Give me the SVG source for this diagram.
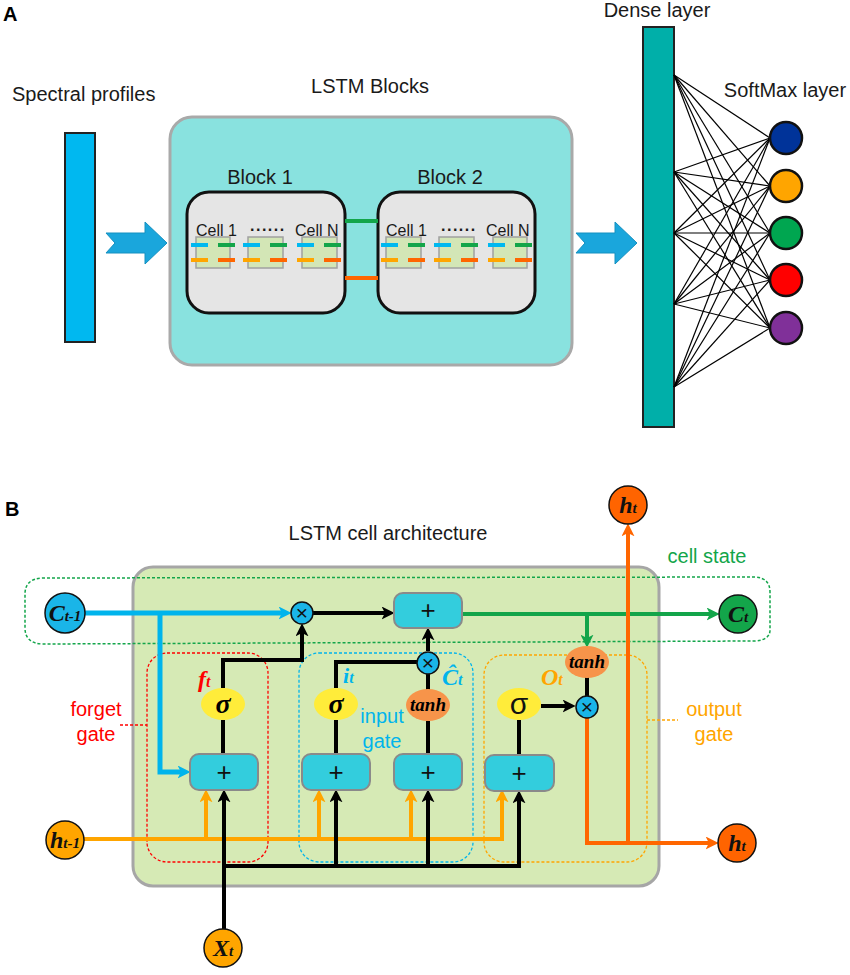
<svg xmlns="http://www.w3.org/2000/svg" width="850" height="975" viewBox="0 0 850 975">
<defs>
<style>
.lbl{font-family:"Liberation Sans",Arial,sans-serif;font-size:20px;fill:#1a1a1a}
.cell{font-family:"Liberation Sans",Arial,sans-serif;font-size:16px;fill:#1a1a1a}
.pl{font-family:"Liberation Sans",Arial,sans-serif;font-size:20px;font-weight:bold;fill:#000}
.sym{font-family:"Liberation Serif","Times New Roman",serif;font-weight:bold;font-style:italic}
.op{font-family:"Liberation Sans",Arial,sans-serif;text-anchor:middle;fill:#111}
.box{fill:#33cddd;stroke:#8a8a8a;stroke-width:2}
.mul{fill:#1ab5e8;stroke:#111;stroke-width:1.5}
.sig{fill:#ffec3a}
.tanh{fill:#f7944a}
.cbox{fill:#d3e6b6;stroke:#a0a0a0;stroke-width:1.5}
.blk{fill:#e5e5e5;stroke:#111;stroke-width:3}
.k{stroke:#000;stroke-width:4;fill:none}
.bl{stroke:#00b4ec;stroke-width:5;fill:none}
.gr{stroke:#13a54a;stroke-width:4;fill:none}
.or{stroke:#ffa500;stroke-width:4;fill:none}
.rd{stroke:#ff6600;stroke-width:4;fill:none}
.dense line{stroke:#000;stroke-width:1.2}
.node circle{stroke:#111;stroke-width:1.5}
</style>
<marker id="mk" viewBox="0 0 12 12" markerWidth="13" markerHeight="13" refX="4" refY="6" orient="auto" markerUnits="userSpaceOnUse"><path d="M0,0 L12,6 L0,12 L3,6 z" fill="#000"/></marker>
<marker id="mb" viewBox="0 0 12 12" markerWidth="13" markerHeight="13" refX="4" refY="6" orient="auto" markerUnits="userSpaceOnUse"><path d="M0,0 L12,6 L0,12 L3,6 z" fill="#00b4ec"/></marker>
<marker id="mg" viewBox="0 0 12 12" markerWidth="13" markerHeight="13" refX="4" refY="6" orient="auto" markerUnits="userSpaceOnUse"><path d="M0,0 L12,6 L0,12 L3,6 z" fill="#13a54a"/></marker>
<marker id="mo" viewBox="0 0 12 12" markerWidth="13" markerHeight="13" refX="4" refY="6" orient="auto" markerUnits="userSpaceOnUse"><path d="M0,0 L12,6 L0,12 L3,6 z" fill="#ffa500"/></marker>
<marker id="mr" viewBox="0 0 12 12" markerWidth="13" markerHeight="13" refX="4" refY="6" orient="auto" markerUnits="userSpaceOnUse"><path d="M0,0 L12,6 L0,12 L3,6 z" fill="#ff6600"/></marker>
</defs>
<rect width="850" height="975" fill="#fff"/>

<!-- Panel A -->
<text class="pl" x="3" y="21">A</text>
<text class="lbl" x="12" y="101">Spectral profiles</text>
<g id="spectral"><rect x="65" y="133" width="30" height="209" fill="#00b8f0" stroke="#222" stroke-width="2"/></g>
<g id="arrowA1"><polygon points="106,233 145,233 145,222 167,243 145,264 145,253 106,253 115,243" fill="#1aa6dc" stroke="#1590c0" stroke-width="1"/></g>

<g id="lstmblocks">
<rect x="170" y="117" width="402" height="248" rx="22" fill="#89e2df" stroke="#a9a9a9" stroke-width="3"/>
<text class="lbl" x="370" y="93" text-anchor="middle">LSTM Blocks</text>
</g>
<g id="block1">
<text class="lbl" x="260" y="184" text-anchor="middle">Block 1</text>
<rect class="blk" x="187" y="192" width="158" height="121" rx="22"/>
<text class="cell" x="196" y="236">Cell 1</text>
<text class="cell" x="250" y="231" letter-spacing="1.5" font-weight="bold">......</text>
<text class="cell" x="295" y="236">Cell N</text>
<rect class="cbox" x="196" y="237" width="34" height="31"/>
<rect class="cbox" x="248" y="237" width="35" height="31"/>
<rect class="cbox" x="302" y="237" width="35" height="31"/>
</g>
<g id="block2">
<text class="lbl" x="450" y="184" text-anchor="middle">Block 2</text>
<rect class="blk" x="378" y="192" width="157" height="121" rx="22"/>
<text class="cell" x="386" y="236">Cell 1</text>
<text class="cell" x="441" y="231" letter-spacing="1.5" font-weight="bold">......</text>
<text class="cell" x="486" y="236">Cell N</text>
<rect class="cbox" x="386" y="237" width="35" height="31"/>
<rect class="cbox" x="439" y="237" width="35" height="31"/>
<rect class="cbox" x="493" y="237" width="34" height="31"/>
</g>
<g id="celldashes" stroke-width="4">
<g stroke="#00b8f0"><path d="M191,245h17M243,245h17M297,245h17M381,245h17M434,245h17M488,245h17"/></g>
<g stroke="#13a54a"><path d="M218,245h17M270,245h17M324,245h17M408,245h17M461,245h17M515,245h17"/></g>
<g stroke="#ffa500"><path d="M191,260h17M243,260h17M297,260h17M381,260h17M434,260h17M488,260h17"/></g>
<g stroke="#ff6600"><path d="M218,260h17M270,260h17M324,260h17M408,260h17M461,260h17M515,260h17"/></g>
</g>
<g id="blocklinks" stroke-width="4">
<line x1="345" y1="221" x2="378" y2="221" stroke="#13a54a"/>
<line x1="345" y1="278" x2="378" y2="278" stroke="#ff6600"/>
</g>
<g id="arrowA2"><polygon points="576,233 615,233 615,222 637,243 615,264 615,253 576,253 585,243" fill="#1aa6dc" stroke="#1590c0" stroke-width="1"/></g>

<g id="dense">
<text class="lbl" x="657" y="17" text-anchor="middle">Dense layer</text>
<rect x="643" y="27" width="31" height="400" fill="#00afa9" stroke="#222" stroke-width="2"/>
</g>
<g class="dense" id="denseconn">
<line x1="674" y1="75" x2="770" y2="138"/><line x1="674" y1="75" x2="770" y2="186"/><line x1="674" y1="75" x2="770" y2="233"/><line x1="674" y1="75" x2="770" y2="280"/><line x1="674" y1="75" x2="770" y2="328"/>
<line x1="674" y1="172" x2="770" y2="138"/><line x1="674" y1="172" x2="770" y2="186"/><line x1="674" y1="172" x2="770" y2="233"/><line x1="674" y1="172" x2="770" y2="280"/><line x1="674" y1="172" x2="770" y2="328"/>
<line x1="674" y1="233" x2="770" y2="138"/><line x1="674" y1="233" x2="770" y2="186"/><line x1="674" y1="233" x2="770" y2="233"/><line x1="674" y1="233" x2="770" y2="280"/><line x1="674" y1="233" x2="770" y2="328"/>
<line x1="674" y1="304" x2="770" y2="138"/><line x1="674" y1="304" x2="770" y2="186"/><line x1="674" y1="304" x2="770" y2="233"/><line x1="674" y1="304" x2="770" y2="280"/><line x1="674" y1="304" x2="770" y2="328"/>
<line x1="674" y1="387" x2="770" y2="138"/><line x1="674" y1="387" x2="770" y2="186"/><line x1="674" y1="387" x2="770" y2="233"/><line x1="674" y1="387" x2="770" y2="280"/><line x1="674" y1="387" x2="770" y2="328"/>
</g>
<g id="softmax" stroke="#111" stroke-width="2.5">
<text class="lbl" x="785" y="97" text-anchor="middle" stroke="none">SoftMax layer</text>
<circle cx="786" cy="138" r="16" fill="#003399"/>
<circle cx="786" cy="186" r="16" fill="#ffa500"/>
<circle cx="786" cy="233" r="16" fill="#00a650"/>
<circle cx="786" cy="280" r="16" fill="#ff0000"/>
<circle cx="786" cy="328" r="16" fill="#803099"/>
</g>

<!-- Panel B -->
<text class="pl" x="5" y="516">B</text>
<text class="lbl" x="388" y="540" text-anchor="middle" font-size="19.5">LSTM cell architecture</text>
<g id="cellbg"><rect x="133" y="567" width="526" height="319" rx="20" fill="#d6eab5" stroke="#a6a6a6" stroke-width="3"/></g>

<g id="cellstate">
<path d="M42,578 L755,577 Q770,578 770,592 L770,630 Q770,640 755,641 L42,644 Q25,643 25,628 L25,594 Q25,579 42,578 Z" fill="none" stroke="#13a54a" stroke-width="1.5" stroke-dasharray="3 2"/>
<text class="lbl" x="707" y="563" text-anchor="middle" font-size="17" style="fill:#13a54a">cell state</text>
</g>
<g id="forgetgate">
<rect x="147" y="653" width="121" height="209" rx="20" fill="none" stroke="#ff0000" stroke-width="1.3" stroke-dasharray="3 2"/>
<line x1="120" y1="725" x2="147" y2="725" stroke="#ff0000" stroke-width="1.3" stroke-dasharray="3 2"/>
<text class="lbl" x="96" y="716" text-anchor="middle" style="fill:#ff0000">forget</text>
<text class="lbl" x="96" y="741" text-anchor="middle" style="fill:#ff0000">gate</text>
</g>
<g id="inputgate">
<rect x="299" y="653" width="174" height="209" rx="20" fill="none" stroke="#00b4ec" stroke-width="1.3" stroke-dasharray="3 2"/>
<text class="lbl" x="382" y="723" text-anchor="middle" style="fill:#00b4ec">input</text>
<text class="lbl" x="382" y="748" text-anchor="middle" style="fill:#00b4ec">gate</text>
</g>
<g id="outputgate">
<rect x="484" y="655" width="163" height="207" rx="20" fill="none" stroke="#ffa500" stroke-width="1.3" stroke-dasharray="3 2"/>
<line x1="647" y1="720" x2="678" y2="720" stroke="#ffa500" stroke-width="1.3" stroke-dasharray="3 2"/>
<text class="lbl" x="714" y="716" text-anchor="middle" style="fill:#ffa500">output</text>
<text class="lbl" x="714" y="741" text-anchor="middle" style="fill:#ffa500">gate</text>
</g>

<g id="connectors">
<path class="bl" d="M85,613 H283" marker-end="url(#mb)"/>
<path class="bl" d="M160,613 V772 H182" marker-end="url(#mb)"/>
<path class="k" d="M313,613 H386" marker-end="url(#mk)"/>
<path class="k" d="M223,688 V660 H302 V632" marker-end="url(#mk)"/>
<path class="k" d="M223,720 V754"/>
<path class="k" d="M336,688 V662 H417"/>
<path class="k" d="M336,720 V754"/>
<path class="k" d="M428,651 V636" marker-end="url(#mk)"/>
<path class="k" d="M428,674 V691"/>
<path class="k" d="M428,721 V754"/>
<path class="gr" d="M462,614 H711" marker-end="url(#mg)"/>
<path class="gr" d="M587,614 V639" marker-end="url(#mg)"/>
<path class="k" d="M587,677 V696"/>
<path class="k" d="M541,706 H567" marker-end="url(#mk)"/>
<path class="k" d="M519,720 V755"/>
<path class="rd" d="M587,718 V843 H710" marker-end="url(#mr)"/>
<path class="rd" d="M628,843 V532" marker-end="url(#mr)"/>
<path class="or" d="M84,839 H502 V798" marker-end="url(#mo)"/>
<path class="or" d="M206,839 V798" marker-end="url(#mo)"/>
<path class="or" d="M319,839 V798" marker-end="url(#mo)"/>
<path class="or" d="M411,839 V798" marker-end="url(#mo)"/>
<path class="k" d="M224,929 V798" marker-end="url(#mk)"/>
<path class="k" d="M224,866 H519 V799" marker-end="url(#mk)"/>
<path class="k" d="M336,866 V798" marker-end="url(#mk)"/>
<path class="k" d="M428,866 V798" marker-end="url(#mk)"/>
</g>

<g id="mulForget"><circle class="mul" cx="302" cy="613" r="11"/><text class="op" x="302" y="620" font-size="21">×</text></g>
<g id="addCell"><rect class="box" x="394" y="593" width="68" height="35" rx="9"/><text class="op" x="428" y="619" font-size="26">+</text></g>
<g id="mulInput"><circle class="mul" cx="428" cy="663" r="11"/><text class="op" x="428" y="670" font-size="21">×</text></g>
<g id="mulOutput"><circle class="mul" cx="587" cy="707" r="11"/><text class="op" x="587" y="714" font-size="21">×</text></g>

<g id="sigForget"><ellipse class="sig" cx="223" cy="704" rx="22" ry="16"/><text class="sym" x="223" y="713" font-size="28" text-anchor="middle">σ</text>
<text class="sym" x="198" y="687" fill="#ff0000"><tspan font-size="24">f</tspan><tspan font-size="16">t</tspan></text></g>
<g id="sigInput"><ellipse class="sig" cx="336" cy="704" rx="22" ry="16"/><text class="sym" x="336" y="713" font-size="28" text-anchor="middle">σ</text>
<text class="sym" x="343" y="683" fill="#00b4ec"><tspan font-size="22">i</tspan><tspan font-size="16">t</tspan></text></g>
<g id="tanhInput"><ellipse class="tanh" cx="428" cy="705" rx="22" ry="16"/><text class="sym" x="428" y="711" font-size="19" text-anchor="middle">tanh</text>
<text class="sym" x="442" y="685" fill="#00b4ec"><tspan font-size="24">Ĉ</tspan><tspan font-size="16">t</tspan></text></g>
<g id="sigOutput"><ellipse class="sig" cx="519" cy="704" rx="22" ry="16"/><text class="op" x="519" y="714" font-size="30">σ</text>
<text class="sym" x="541" y="685" fill="#ffa500"><tspan font-size="24">O</tspan><tspan font-size="16">t</tspan></text></g>
<g id="tanhOutput"><ellipse class="tanh" cx="587" cy="662" rx="22" ry="16"/><text class="sym" x="587" y="668" font-size="19" text-anchor="middle">tanh</text></g>

<g id="addForget"><rect class="box" x="190" y="754" width="68" height="36" rx="9"/><text class="op" x="224" y="781" font-size="26">+</text></g>
<g id="addInput"><rect class="box" x="302" y="754" width="68" height="36" rx="9"/><text class="op" x="336" y="781" font-size="26">+</text></g>
<g id="addTanh"><rect class="box" x="394" y="754" width="68" height="36" rx="9"/><text class="op" x="428" y="781" font-size="26">+</text></g>
<g id="addOutput"><rect class="box" x="485" y="755" width="69" height="36" rx="9"/><text class="op" x="519" y="782" font-size="26">+</text></g>

<g class="node" id="Ctm1"><circle cx="65" cy="613" r="20" fill="#1ab5e8"/><text class="sym" x="65" y="621" text-anchor="middle" fill="#111"><tspan font-size="24">C</tspan><tspan font-size="15">t-1</tspan></text></g>
<g class="node" id="Ct"><circle cx="738" cy="614" r="19" fill="#13a54a"/><text class="sym" x="738" y="622" text-anchor="middle" fill="#111"><tspan font-size="24">C</tspan><tspan font-size="15">t</tspan></text></g>
<g class="node" id="htm1"><circle cx="65" cy="840" r="19" fill="#ffa500"/><text class="sym" x="65" y="848" text-anchor="middle" fill="#111"><tspan font-size="24">h</tspan><tspan font-size="15">t-1</tspan></text></g>
<g class="node" id="xt"><circle cx="223" cy="948" r="19" fill="#ffa500"/><text class="sym" x="223" y="956" text-anchor="middle" fill="#111"><tspan font-size="24">X</tspan><tspan font-size="15">t</tspan></text></g>
<g class="node" id="htTop"><circle cx="628" cy="505" r="19" fill="#ff6400"/><text class="sym" x="628" y="513" text-anchor="middle" fill="#111"><tspan font-size="24">h</tspan><tspan font-size="15">t</tspan></text></g>
<g class="node" id="htOut"><circle cx="737" cy="843" r="19" fill="#ff6400"/><text class="sym" x="737" y="851" text-anchor="middle" fill="#111"><tspan font-size="24">h</tspan><tspan font-size="15">t</tspan></text></g>
</svg>
